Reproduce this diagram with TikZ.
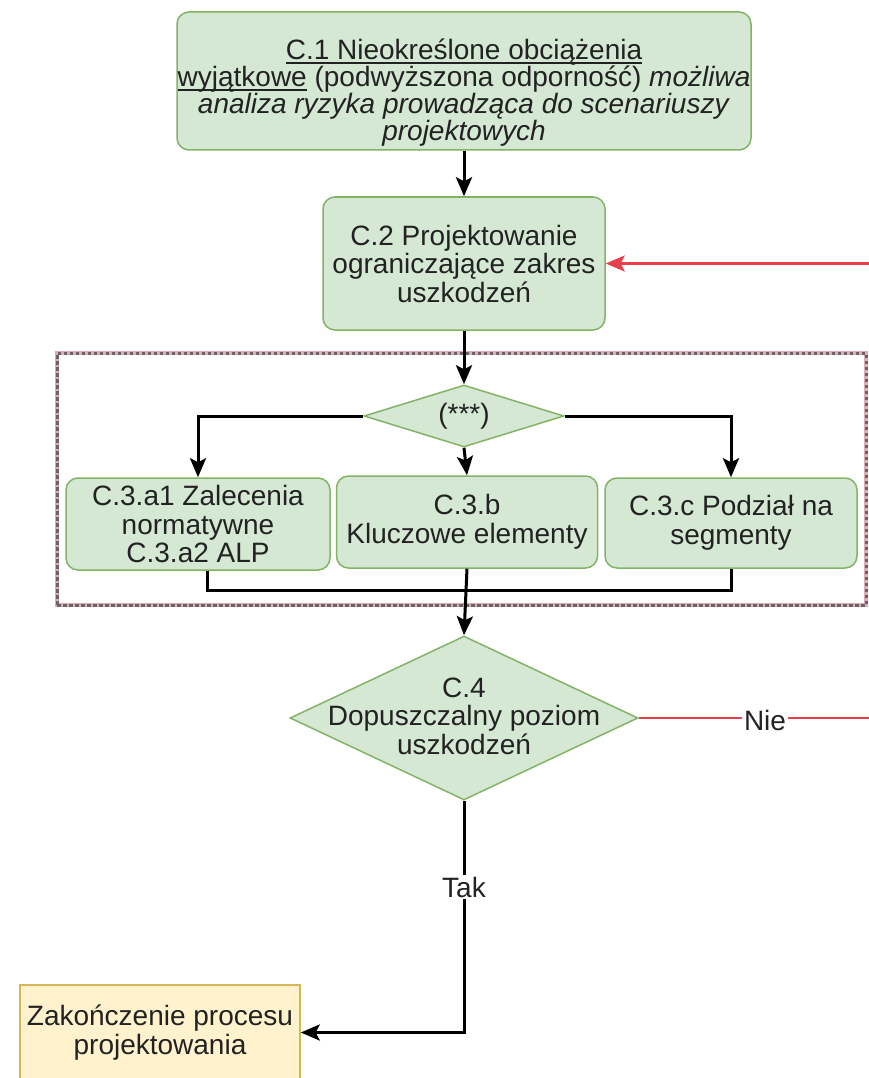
\documentclass[tikz,border=0pt]{standalone}
\usepackage{fontspec}
\setmainfont{Liberation Sans}
\usetikzlibrary{shapes.geometric,arrows.meta}
\definecolor{gfill}{HTML}{D5E8D4}
\definecolor{gline}{HTML}{82B366}
\definecolor{yfill}{HTML}{FFF2CC}
\definecolor{yline}{HTML}{D6B656}
\definecolor{redline}{HTML}{E8404A}
\definecolor{grpcol}{HTML}{6E6264}
\definecolor{grppink}{HTML}{D9AEB4}
\definecolor{txt}{HTML}{222222}
\newlength\myulw
\newcommand\myul[1]{\settowidth\myulw{#1}\rlap{\rule[-4pt]{\myulw}{1.6pt}}#1}
\begin{document}
\begin{tikzpicture}[x=1pt,y=-1pt,
  every node/.style={font=\fontsize{28}{28.5}\selectfont, text=txt},
  box/.style={draw=gline, fill=gfill, line width=1.5pt, rounded corners=12pt, align=center, inner sep=0pt},
  dia/.style={diamond, draw=gline, fill=gfill, line width=1.5pt, inner sep=0pt},
  endbox/.style={draw=yline, fill=yfill, line width=1.5pt, align=center, inner sep=0pt},
  grpbox/.style={draw=grppink, line width=4.5pt, inner sep=0pt,
     postaction={draw=grpcol, line width=3pt, dash pattern=on 3.5pt off 2.5pt}},
  conn/.style={line width=3pt, draw=black, -{Stealth[length=19pt,width=16pt,inset=4pt]}},
  plain/.style={line width=3pt, draw=black},
  redconn/.style={line width=2.5pt, draw=redline, -{Stealth[length=19pt,width=16pt,inset=4pt]}},
  lab/.style={fill=white, inner sep=2pt}
]
\useasboundingbox (0,0) rectangle (869,1078);
\fill[white] (0,0) rectangle (869,1078);

% group container
\node[grpbox, minimum width=809pt, minimum height=252pt] (grp) at (461.5,479) {};

% nodes
\node[box, minimum width=574pt, minimum height=138pt, font=\fontsize{28}{27}\selectfont] (c1) at (464,81)
  {\rule{0pt}{44pt}\myul{C.1 Nieokreślone obciążenia}\\
   \myul{wyjątkowe} (podwyższona odporność) \textit{możliwa}\\
   \textit{analiza ryzyka prowadząca do scenariuszy}\\
   \textit{projektowych}};
\node[box, minimum width=282pt, minimum height=133pt] (c2) at (464,263.5)
  {C.2 Projektowanie\\ograniczające zakres\\uszkodzeń};
\node[dia, aspect=3.2, minimum width=200pt, minimum height=62pt] (d3) at (464,416) {(***)};
\node[box, minimum width=264pt, minimum height=92pt] (c3a) at (198,524)
  {C.3.a1 Zalecenia\\normatywne\\C.3.a2 ALP};
\node[box, minimum width=261pt, minimum height=92pt] (c3b) at (467,522)
  {C.3.b\\Kluczowe elementy};
\node[box, minimum width=252pt, minimum height=90pt] (c3c) at (731,523)
  {C.3.c Podział na\\segmenty};
\node[dia, minimum width=348pt, minimum height=164pt] (c4) at (464,718) {};
\node[align=center, inner sep=0pt] (c4t) at (464,716)
  {C.4\\Dopuszczalny poziom\\uszkodzeń};
\node[endbox, minimum width=280pt, minimum height=95pt] (end) at (160,1032.5)
  {Zakończenie procesu\\projektowania};

% connectors
\draw[conn] (c1.south) -- (c2.north);
\draw[conn] (c2.south) -- (d3.north);
\draw[conn] (d3.west) -| (c3a.north);
\draw[conn] (d3.east) -| (c3c.north);
\draw[conn] (d3.south) -- (c3b.north);
\coordinate (j) at (465,590);
\draw[plain] ([xshift=9pt]c3a.south) |- (j);
\draw[plain] (c3c.south) |- (j);
\draw[conn] (c3b.south) -- (c4.north);

\coordinate (r1) at (890,718);
\coordinate (r2) at (890,263.5);
\draw[redconn] (c4.east) -- (r1) -- (r2) -- (c2.east);
\node[lab] (nie) at (765,720) {Nie};

\coordinate (t1) at (464,1032.5);
\draw[conn] (c4.south) -- (t1) -- (end.east);
\node[lab] (tak) at (464,887) {Tak};
\end{tikzpicture}
\end{document}
